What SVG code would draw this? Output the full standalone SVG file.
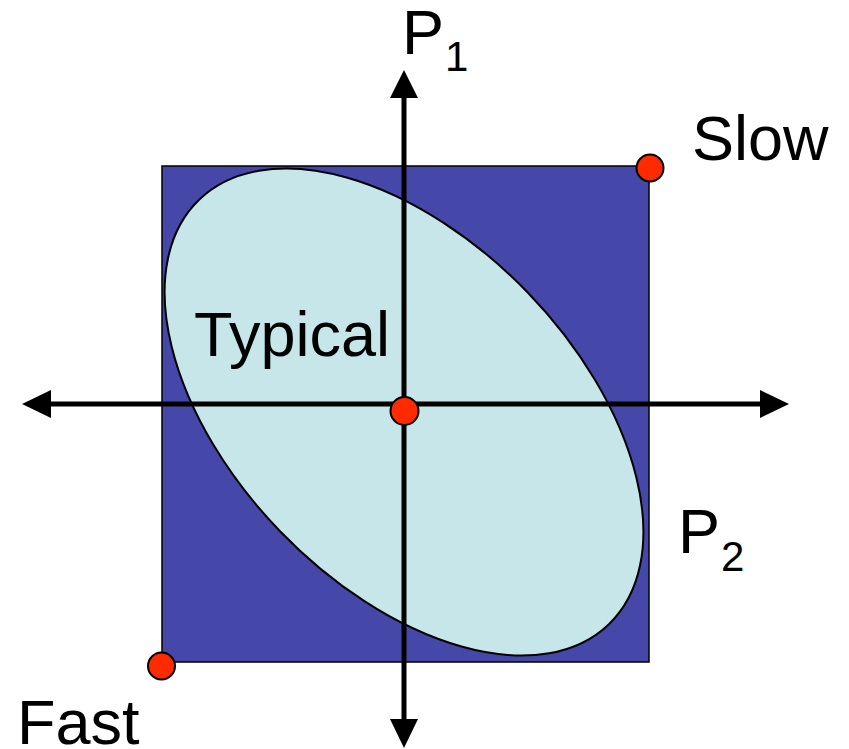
<svg xmlns="http://www.w3.org/2000/svg" width="849" height="749" viewBox="0 0 849 749">
<style>
.lbl{font-family:"Liberation Sans",Arial,sans-serif;fill:#000}
.big{font-size:63px}
.sub{font-size:42px}
.dot{fill:#FF2A00;stroke:#000;stroke-width:2}
.axis{stroke:#000;stroke-width:5;fill:none}
.head{fill:#000}
</style>
<rect width="849" height="749" fill="#fff"/>
<g id="region">
<rect x="162" y="166" width="487" height="496" fill="#4548A8" stroke="#000" stroke-width="1.5"/>
</g>
<g id="typical-ellipse">
<ellipse cx="404" cy="412" rx="295" ry="172" transform="rotate(46 404 412)" fill="#C6E6EA" stroke="#000" stroke-width="2"/>
</g>
<g id="connectors">
<line class="axis" x1="404" y1="96" x2="404" y2="721"/>
<line class="axis" x1="49" y1="404" x2="762" y2="404"/>
<polygon class="head" points="404,70 390,98 418,98"/>
<polygon class="head" points="404,748 390,719 418,719"/>
<polygon class="head" points="22,404 51,390 51,418"/>
<polygon class="head" points="789,404 760,390 760,418"/>
</g>
<g id="slow">
<circle class="dot" cx="650" cy="168" r="13.5"/>
<text class="lbl big" x="692" y="160">Slow</text>
</g>
<g id="typical">
<circle class="dot" cx="404.5" cy="411" r="14"/>
<text class="lbl big" x="194" y="356">Typical</text>
</g>
<g id="fast">
<circle class="dot" cx="161.5" cy="666" r="13.5"/>
<text class="lbl big" x="17" y="744">Fast</text>
</g>
<g id="p1">
<text class="lbl" x="402" y="54"><tspan class="big">P</tspan><tspan class="sub" x="445" y="71">1</tspan></text>
</g>
<g id="p2">
<text class="lbl" x="678" y="553"><tspan class="big">P</tspan><tspan class="sub" x="721" y="571">2</tspan></text>
</g>
</svg>
